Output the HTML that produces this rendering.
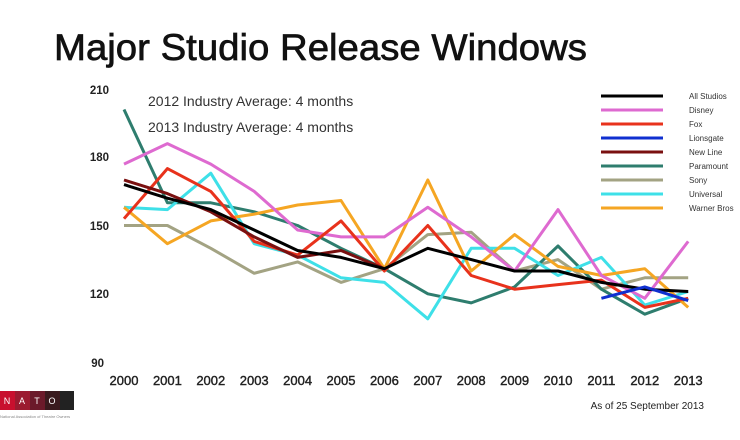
<!DOCTYPE html>
<html><head><meta charset="utf-8"><style>
html,body{margin:0;padding:0;background:#fff;}
svg{display:block;font-family:"Liberation Sans",sans-serif;}
</style></head><body>
<svg id="c" width="740" height="440" viewBox="0 0 740 440" xmlns="http://www.w3.org/2000/svg">
<text x="54" y="60" font-size="37" fill="#111" stroke="#111" stroke-width="0.7" textLength="533" lengthAdjust="spacingAndGlyphs">Major Studio Release Windows</text>
<text x="148" y="106" font-size="14" fill="#333">2012 Industry Average: 4 months</text>
<text x="148" y="132" font-size="14" fill="#333">2013 Industry Average: 4 months</text>
<g font-size="11.5" fill="#222" font-weight="bold" text-anchor="end">
<text x="109" y="94">210</text>
<text x="109" y="161">180</text>
<text x="109" y="230">150</text>
<text x="109" y="298">120</text>
<text x="104" y="367">90</text>
</g>
<g id="years" font-size="13" fill="#222" stroke="#222" stroke-width="0.4" text-anchor="middle"></g>
<text x="704" y="409" font-size="10" fill="#222" text-anchor="end">As of 25 September 2013</text>
<g id="lines" fill="none" stroke-width="3" stroke-linejoin="round"></g>
<g id="legend" font-size="8" fill="#333"></g>
<rect x="0" y="391" width="15" height="19" fill="#c8102e"/>
<rect x="15" y="391" width="15" height="19" fill="#9b1b30"/>
<rect x="30" y="391" width="15" height="19" fill="#6b1a2a"/>
<rect x="45" y="391" width="15" height="19" fill="#3a1a1e"/>
<rect x="60" y="391" width="14" height="19" fill="#222"/>
<g font-size="9" fill="#fff" text-anchor="middle"><text x="7" y="404">N</text><text x="22" y="404">A</text><text x="37" y="404">T</text><text x="52" y="404">O</text></g>
<text x="0" y="418" font-size="4" fill="#888">National Association of Theatre Owners</text>
</svg>
<script>
var X=function(i){return 124+i*43.4;},Y=function(v){return 89+(210-v)*2.275;};
var yr=document.getElementById('years');
for(var i=0;i<14;i++){yr.innerHTML+='<text x="'+X(i)+'" y="385">'+(2000+i)+'</text>';}
var S=[
["Sony","#a3a383",[150,150,140,129,134,125,131,146,147,130,135,122,127,127]],
["Paramount","#2e7d6e",[201,160,160,156,150,140,131,120,116,123,141,122,111,118]],
["Universal","#3ee0e8",[158,157,173,142,137,127,125,109,140,140,128,136,115,121]],
["Warner Bros","#f5a623",[158,142,152,155,159,161,131,170,130,146,132,128,131,114]],
["Disney","#de6ad0",[177,186,177,165,148,145,145,158,145,130,157,128,118,143]],
["Fox","#e8321c",[153,175,165,143,137,152,130,150,128,122,124,126,114,118]],
["New Line","#7a1010",[170,164,156,145,136,139,131,null]],
["All Studios","#000",[168,162,157,148,139,136,131,140,135,130,130,125,122,121]],
["Lionsgate","#1030d0",[null,null,null,null,null,null,null,null,null,null,null,118,123,117]]
];
var L=document.getElementById('lines'),h='';
S.forEach(function(s){var p=[];s[2].forEach(function(v,i){if(v!=null)p.push(X(i).toFixed(1)+','+Y(v).toFixed(1));});
h+='<polyline stroke="'+s[1]+'" points="'+p.join(' ')+'"/>';});
L.innerHTML=h;
var order=["All Studios","Disney","Fox","Lionsgate","New Line","Paramount","Sony","Universal","Warner Bros"];
var lg=document.getElementById('legend'),g='';
order.forEach(function(n,i){var c=S.filter(function(s){return s[0]==n})[0][1];var y=96+i*14;
g+='<line x1="601" x2="663" y1="'+y+'" y2="'+y+'" stroke="'+c+'" stroke-width="3"/>';
g+='<text x="689" y="'+(y+3)+'">'+n+'</text>';});
lg.innerHTML=g;
</script>
</body></html>
